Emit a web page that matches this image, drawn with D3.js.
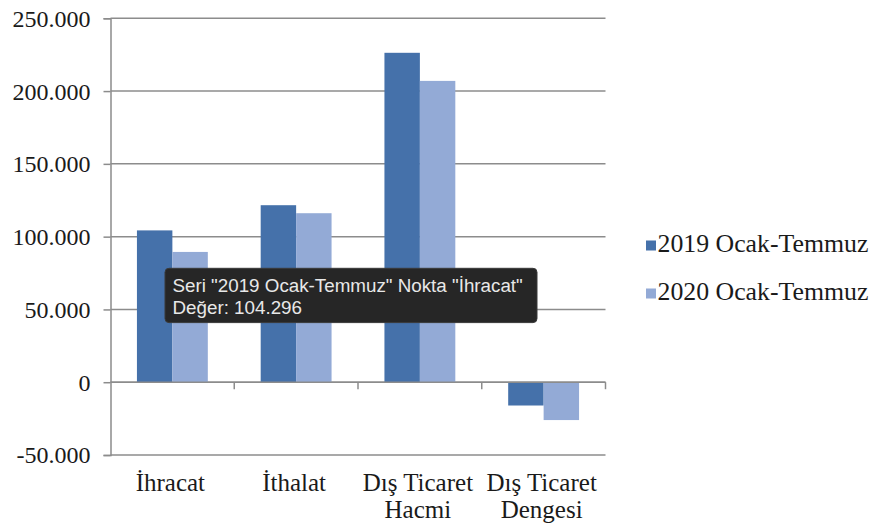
<!DOCTYPE html>
<html>
<head>
<meta charset="utf-8">
<script src="https://cdn.jsdelivr.net/npm/d3@7/dist/d3.min.js"></script>
<style>
  html, body { margin: 0; padding: 0; background: #ffffff; }
  svg { display: block; }
</style>
</head>
<body>
<svg id="chart" width="873" height="527"></svg>
<script>
// ---- data ----
const categories = ["İhracat", "İthalat", "Dış Ticaret Hacmi", "Dış Ticaret Dengesi"];
const categoryLines = [["İhracat"], ["İthalat"], ["Dış Ticaret", "Hacmi"], ["Dış Ticaret", "Dengesi"]];
const seriesNames = ["2019 Ocak-Temmuz", "2020 Ocak-Temmuz"];
const values2019 = [104296, 121600, 226300, -16000];
const values2020 = [89500, 116100, 207000, -26000];
const yTicks = [-50000, 0, 50000, 100000, 150000, 200000, 250000];
const tooltipLines = ['Seri "2019 Ocak-Temmuz" Nokta "İhracat"', 'Değer: 104.296'];

const colors = ["#4571aa", "#93aad6"];
const seriesValues = [values2019, values2020];

const svg = d3.select("#chart");
const plotLeft = 110.5, plotRight = 605.5, plotTop = 18.3, plotBottom = 455;

const locale = d3.formatLocale({decimal: ",", thousands: ".", grouping: [3], currency: ["", ""], minus: "-"});
const fmt = locale.format(",d");

const y = d3.scaleLinear().domain([-50000, 250000]).range([plotBottom, plotTop]);
const x0 = d3.scaleBand().domain(categories).range([plotLeft, plotRight]).paddingInner(0).paddingOuter(0);
const x1 = d3.scaleBand().domain(seriesNames).range([0, x0.bandwidth()]).paddingInner(0).paddingOuter(0.746);

// gridlines
svg.append("g").selectAll("line").data(yTicks).join("line")
  .attr("x1", plotLeft).attr("x2", plotRight)
  .attr("y1", d => y(d)).attr("y2", d => y(d))
  .attr("stroke", "#8c8c8c").attr("stroke-width", 1.5);

// bars
const rows = categories.map((c, i) => ({cat: c, vals: seriesNames.map((s, j) => ({s, j, v: seriesValues[j][i]}))}));
svg.append("g").selectAll("g").data(rows).join("g")
  .attr("transform", d => `translate(${x0(d.cat)},0)`)
  .selectAll("rect").data(d => d.vals).join("rect")
  .attr("x", d => x1(d.s))
  .attr("width", x1.bandwidth())
  .attr("y", d => y(Math.max(0, d.v)))
  .attr("height", d => Math.abs(y(d.v) - y(0)))
  .attr("fill", d => colors[d.j]);

// zero (category) axis line
svg.append("line").attr("x1", plotLeft).attr("x2", plotRight)
  .attr("y1", y(0)).attr("y2", y(0))
  .attr("stroke", "#8c8c8c").attr("stroke-width", 1.5);

// category tick marks
const boundaries = categories.map(c => x0(c) + x0.bandwidth());
svg.append("g").selectAll("line").data(boundaries).join("line")
  .attr("x1", d => d).attr("x2", d => d)
  .attr("y1", y(0)).attr("y2", y(0) + 7)
  .attr("stroke", "#8c8c8c").attr("stroke-width", 1.5);

// y axis
const yAxis = d3.axisLeft(y).tickValues(yTicks).tickFormat(fmt).tickSize(7).tickPadding(13);
const yg = svg.append("g").attr("transform", `translate(${plotLeft},0)`).call(yAxis);
yg.select(".domain").attr("stroke", "#8c8c8c").attr("stroke-width", 1.5);
yg.selectAll(".tick line").attr("stroke", "#8c8c8c").attr("stroke-width", 1.5);
yg.selectAll(".tick text")
  .attr("font-family", "'Liberation Serif', 'Times New Roman', serif")
  .attr("font-size", 24).attr("fill", "#1a1a1a").attr("dy", "0.33em");

// category labels
const catG = svg.append("g")
  .attr("font-family", "'Liberation Serif', 'Times New Roman', serif")
  .attr("font-size", 25).attr("fill", "#1a1a1a").attr("text-anchor", "middle");
categories.forEach((c, i) => {
  const cx = x0(c) + x0.bandwidth() / 2 - 2;
  const t = catG.append("text").attr("x", cx).attr("y", 491);
  categoryLines[i].forEach((ln, k) => {
    t.append("tspan").attr("x", cx).attr("y", 491 + k * 26.5).text(ln);
  });
});

// legend
const lg = svg.append("g")
  .attr("font-family", "'Liberation Serif', 'Times New Roman', serif")
  .attr("font-size", 25.8).attr("fill", "#1a1a1a");
seriesNames.forEach((s, j) => {
  const yy = 251.5 + j * 48;
  lg.append("rect").attr("x", 646).attr("y", yy - 11).attr("width", 10).attr("height", 10).attr("fill", colors[j]);
  lg.append("text").attr("x", 657.5).attr("y", yy).text(s);
});

// tooltip
const tip = svg.append("g");
tip.append("rect").attr("x", 165).attr("y", 268.3).attr("width", 372).attr("height", 54.3)
  .attr("rx", 4).attr("fill", "#262626").attr("stroke", "#3a3a3a").attr("stroke-width", 1);
tip.selectAll("text").data(tooltipLines).join("text")
  .attr("x", 172.5).attr("y", (d, i) => 291.7 + i * 22.3)
  .attr("font-family", "'Liberation Sans', Arial, Helvetica, sans-serif")
  .attr("font-size", 18.8).attr("fill", "#e8e8e8")
  .text(d => d);
</script>
</body>
</html>
